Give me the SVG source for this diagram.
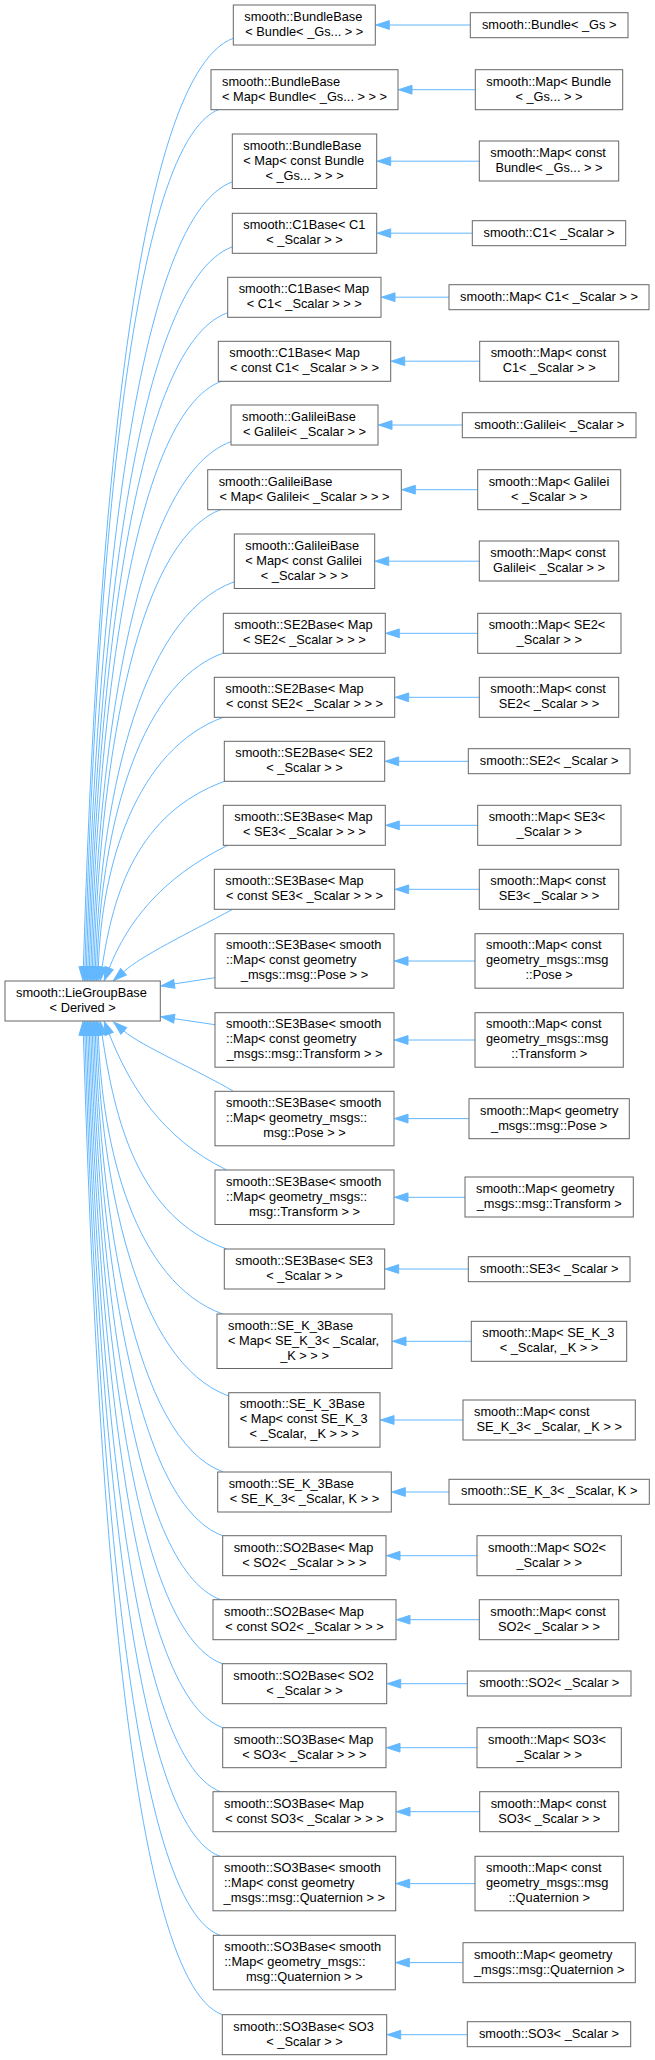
<svg xmlns="http://www.w3.org/2000/svg" width="655" height="2060" viewBox="0 0 655 2060">
<style>
.n rect{fill:#fff;stroke:#666;stroke-width:1}
text{font-family:"Liberation Sans",Arial,Helvetica,sans-serif;font-size:12.8px;fill:#000}
.s{text-anchor:start}
.m{text-anchor:middle}
#edges path{fill:none;stroke:#63b8ff;stroke-width:1;marker-end:url(#ah)}
</style>
<defs>
<marker id="ah" markerUnits="userSpaceOnUse" orient="auto" refX="0" refY="0" markerWidth="16" markerHeight="12" viewBox="0 -6 16 12" overflow="visible">
<path d="M0,-4.4 L13.5,0 L0,4.4 z" fill="#63b8ff" stroke="#63b8ff" stroke-width="1"/>
</marker>
</defs>
<rect width="655" height="2060" fill="#fff"/>
<g id="edges">
<path d="M233.3,38.3 C127.3,76.6 94.5,595.5 83.4,967"/>
<path d="M220,109 C124.5,143.6 95.2,623.8 84.9,967"/>
<path d="M232.7,181.7 C129.3,219.1 95.8,652.9 86.4,967"/>
<path d="M232.7,246.7 C130.3,283.7 96.5,678.9 87.9,967"/>
<path d="M227,313 C129.7,348.2 97.2,705.4 89.4,967"/>
<path d="M222,381 C129.3,414.5 97.9,732.6 90.9,967"/>
<path d="M231,441.7 C133,477.1 98.7,756.9 92.4,967"/>
<path d="M222,509 C131.4,541.8 99.4,783.8 93.9,967"/>
<path d="M234.3,581.7 C136.1,617.2 100,812.9 95.4,967"/>
<path d="M223.3,653 C133.9,685.3 100.7,841.4 96.9,967"/>
<path d="M224,717 C135.2,749.1 101.4,867 98.4,967"/>
<path d="M225.3,781 C137,813 113.1,893.5 102.1,967.2"/>
<path d="M228.3,845 C161.2,877.8 127.5,922.3 109.2,968"/>
<path d="M233.3,909 C185.8,934.4 142.3,955.3 123.5,971.8"/>
<path d="M215,977.7 L174.3,983.9"/>
<path d="M215,1024.7 L174.3,1018.7"/>
<path d="M233,1091 C199.9,1071.4 140.3,1045.4 123.8,1030.9"/>
<path d="M226.7,1170 C160.5,1137.6 129.4,1084.5 109.2,1034"/>
<path d="M226.7,1249 C137.4,1216.7 114.8,1119.6 102.1,1034.8"/>
<path d="M222.7,1314 C134.8,1282.2 101.7,1146.6 98.4,1035"/>
<path d="M228.7,1396 C135.5,1362.3 101.2,1179.4 96.9,1035"/>
<path d="M223.3,1472 C132.8,1439.3 100.6,1209.8 95.4,1035"/>
<path d="M222.7,1535.7 C131.6,1502.8 99.9,1235.3 93.9,1035"/>
<path d="M220.7,1599.7 C130,1566.9 99.2,1260.9 92.4,1035"/>
<path d="M222.3,1663.7 C129.4,1630.1 98.4,1286.5 90.9,1035"/>
<path d="M222.7,1727.7 C128.4,1693.6 97.7,1312.1 89.4,1035"/>
<path d="M220.7,1791.7 C126.8,1757.7 97,1337.7 87.9,1035"/>
<path d="M220,1856.3 C125.5,1822.1 96.3,1363.5 86.4,1035"/>
<path d="M220,1935.3 C124.5,1900.7 95.7,1395.1 84.9,1035"/>
<path d="M222.3,2014.7 C124.1,1979.2 95.2,1426.9 83.4,1035"/>
<path d="M470.3,25 H389.3"/>
<path d="M475.3,89.7 H412"/>
<path d="M479.3,161.2 H390.7"/>
<path d="M472.3,233.2 H390.7"/>
<path d="M449,297.2 H395"/>
<path d="M479.7,361.2 H404.7"/>
<path d="M462.3,425 H392"/>
<path d="M477.7,489.7 H415.3"/>
<path d="M479.3,561.2 H388.7"/>
<path d="M477.7,633.3 H399.3"/>
<path d="M479.3,697.3 H408.7"/>
<path d="M468.3,761.3 H398.7"/>
<path d="M477.7,825.3 H399.3"/>
<path d="M479.3,889.3 H408.7"/>
<path d="M475,961 H408"/>
<path d="M475,1040 H408"/>
<path d="M469,1118.6 H408"/>
<path d="M465,1197.3 H408"/>
<path d="M468.3,1269 H398.7"/>
<path d="M471.3,1341.3 H406"/>
<path d="M463,1420 H394"/>
<path d="M449,1492 H405.3"/>
<path d="M477,1555.7 H400"/>
<path d="M479.3,1619.7 H410"/>
<path d="M467.3,1683.7 H400.7"/>
<path d="M477,1747.7 H400"/>
<path d="M479.7,1811.7 H410"/>
<path d="M475,1883.6 H409.7"/>
<path d="M463,1962.6 H409.3"/>
<path d="M467.3,2034.7 H400.7"/>
</g>
<g id="lie" class="n"><rect x="5" y="981" width="155.3" height="40"/><text class="s" x="16" y="996.8">smooth::LieGroupBase</text><text class="m" x="82.7" y="1011.8">&lt; Derived &gt;</text></g>
<g id="n1L" class="n"><rect x="233.3" y="5" width="142" height="40"/><text class="s" x="244.3" y="20.8">smooth::BundleBase</text><text class="m" x="304.3" y="35.8">&lt; Bundle&lt; _Gs... &gt; &gt;</text></g>
<g id="n1R" class="n"><rect x="470.3" y="12.7" width="157.7" height="25"/><text class="m" x="549.2" y="28.5">smooth::Bundle&lt; _Gs &gt;</text></g>
<g id="n2L" class="n"><rect x="211" y="69.7" width="187" height="40"/><text class="s" x="222" y="85.5">smooth::BundleBase</text><text class="m" x="304.5" y="100.5">&lt; Map&lt; Bundle&lt; _Gs... &gt; &gt; &gt;</text></g>
<g id="n2R" class="n"><rect x="475.3" y="69.7" width="147.4" height="40"/><text class="s" x="486.3" y="85.5">smooth::Map&lt; Bundle</text><text class="m" x="549" y="100.5">&lt; _Gs... &gt; &gt;</text></g>
<g id="n3L" class="n"><rect x="232.3" y="134" width="144.4" height="54.5"/><text class="s" x="243.3" y="149.55">smooth::BundleBase</text><text class="s" x="243.3" y="164.55">&lt; Map&lt; const Bundle</text><text class="m" x="304.5" y="179.55">&lt; _Gs... &gt; &gt; &gt;</text></g>
<g id="n3R" class="n"><rect x="479.3" y="141" width="139.4" height="40"/><text class="s" x="490.3" y="156.8">smooth::Map&lt; const</text><text class="m" x="549" y="171.8">Bundle&lt; _Gs... &gt; &gt;</text></g>
<g id="n4L" class="n"><rect x="232.3" y="213.3" width="144.4" height="40"/><text class="s" x="243.3" y="229.1">smooth::C1Base&lt; C1</text><text class="m" x="304.5" y="244.1">&lt; _Scalar &gt; &gt;</text></g>
<g id="n4R" class="n"><rect x="472.3" y="220.7" width="153.4" height="25"/><text class="m" x="549" y="236.5">smooth::C1&lt; _Scalar &gt;</text></g>
<g id="n5L" class="n"><rect x="227.7" y="277.3" width="153.3" height="40"/><text class="s" x="238.7" y="293.1">smooth::C1Base&lt; Map</text><text class="m" x="304.3" y="308.1">&lt; C1&lt; _Scalar &gt; &gt; &gt;</text></g>
<g id="n5R" class="n"><rect x="449" y="284.7" width="200" height="25"/><text class="m" x="549" y="300.5">smooth::Map&lt; C1&lt; _Scalar &gt; &gt;</text></g>
<g id="n6L" class="n"><rect x="218.3" y="341.3" width="172.4" height="40"/><text class="s" x="229.3" y="357.1">smooth::C1Base&lt; Map</text><text class="m" x="304.5" y="372.1">&lt; const C1&lt; _Scalar &gt; &gt; &gt;</text></g>
<g id="n6R" class="n"><rect x="479.7" y="341.3" width="139" height="40"/><text class="s" x="490.7" y="357.1">smooth::Map&lt; const</text><text class="m" x="549.2" y="372.1">C1&lt; _Scalar &gt; &gt;</text></g>
<g id="n7L" class="n"><rect x="231" y="405" width="147" height="40"/><text class="s" x="242" y="420.8">smooth::GalileiBase</text><text class="m" x="304.5" y="435.8">&lt; Galilei&lt; _Scalar &gt; &gt;</text></g>
<g id="n7R" class="n"><rect x="462.3" y="412.7" width="173.7" height="25"/><text class="m" x="549.2" y="428.5">smooth::Galilei&lt; _Scalar &gt;</text></g>
<g id="n8L" class="n"><rect x="207.7" y="469.7" width="193.6" height="40"/><text class="s" x="218.7" y="485.5">smooth::GalileiBase</text><text class="m" x="304.5" y="500.5">&lt; Map&lt; Galilei&lt; _Scalar &gt; &gt; &gt;</text></g>
<g id="n8R" class="n"><rect x="477.7" y="469.7" width="143" height="40"/><text class="s" x="488.7" y="485.5">smooth::Map&lt; Galilei</text><text class="m" x="549.2" y="500.5">&lt; _Scalar &gt; &gt;</text></g>
<g id="n9L" class="n"><rect x="234.3" y="534" width="140.4" height="54.5"/><text class="s" x="245.3" y="549.55">smooth::GalileiBase</text><text class="s" x="245.3" y="564.55">&lt; Map&lt; const Galilei</text><text class="m" x="304.5" y="579.55">&lt; _Scalar &gt; &gt; &gt;</text></g>
<g id="n9R" class="n"><rect x="479.3" y="541" width="139.4" height="40"/><text class="s" x="490.3" y="556.8">smooth::Map&lt; const</text><text class="m" x="549" y="571.8">Galilei&lt; _Scalar &gt; &gt;</text></g>
<g id="n10L" class="n"><rect x="223.3" y="613.3" width="162" height="40"/><text class="s" x="234.3" y="629.1">smooth::SE2Base&lt; Map</text><text class="m" x="304.3" y="644.1">&lt; SE2&lt; _Scalar &gt; &gt; &gt;</text></g>
<g id="n10R" class="n"><rect x="477.7" y="613.3" width="143.3" height="40"/><text class="s" x="488.7" y="629.1">smooth::Map&lt; SE2&lt;</text><text class="m" x="549.3" y="644.1">_Scalar &gt; &gt;</text></g>
<g id="n11L" class="n"><rect x="214.3" y="677.3" width="180.4" height="40"/><text class="s" x="225.3" y="693.1">smooth::SE2Base&lt; Map</text><text class="m" x="304.5" y="708.1">&lt; const SE2&lt; _Scalar &gt; &gt; &gt;</text></g>
<g id="n11R" class="n"><rect x="479.3" y="677.3" width="139.4" height="40"/><text class="s" x="490.3" y="693.1">smooth::Map&lt; const</text><text class="m" x="549" y="708.1">SE2&lt; _Scalar &gt; &gt;</text></g>
<g id="n12L" class="n"><rect x="224.3" y="741.3" width="160.4" height="40"/><text class="s" x="235.3" y="757.1">smooth::SE2Base&lt; SE2</text><text class="m" x="304.5" y="772.1">&lt; _Scalar &gt; &gt;</text></g>
<g id="n12R" class="n"><rect x="468.3" y="748.7" width="161.7" height="25"/><text class="m" x="549.2" y="764.5">smooth::SE2&lt; _Scalar &gt;</text></g>
<g id="n13L" class="n"><rect x="223.3" y="805.3" width="162" height="40"/><text class="s" x="234.3" y="821.1">smooth::SE3Base&lt; Map</text><text class="m" x="304.3" y="836.1">&lt; SE3&lt; _Scalar &gt; &gt; &gt;</text></g>
<g id="n13R" class="n"><rect x="477.7" y="805.3" width="143.3" height="40"/><text class="s" x="488.7" y="821.1">smooth::Map&lt; SE3&lt;</text><text class="m" x="549.3" y="836.1">_Scalar &gt; &gt;</text></g>
<g id="n14L" class="n"><rect x="214.3" y="869.3" width="180.4" height="40"/><text class="s" x="225.3" y="885.1">smooth::SE3Base&lt; Map</text><text class="m" x="304.5" y="900.1">&lt; const SE3&lt; _Scalar &gt; &gt; &gt;</text></g>
<g id="n14R" class="n"><rect x="479.3" y="869.3" width="139.4" height="40"/><text class="s" x="490.3" y="885.1">smooth::Map&lt; const</text><text class="m" x="549" y="900.1">SE3&lt; _Scalar &gt; &gt;</text></g>
<g id="n15L" class="n"><rect x="215" y="933.7" width="179" height="54.5"/><text class="s" x="226" y="949.25">smooth::SE3Base&lt; smooth</text><text class="s" x="226" y="964.25">::Map&lt; const geometry</text><text class="m" x="304.5" y="979.25">_msgs::msg::Pose &gt; &gt;</text></g>
<g id="n15R" class="n"><rect x="475" y="933.7" width="148.3" height="54.5"/><text class="s" x="486" y="949.25">smooth::Map&lt; const</text><text class="s" x="486" y="964.25">geometry_msgs::msg</text><text class="m" x="549.2" y="979.25">::Pose &gt;</text></g>
<g id="n16L" class="n"><rect x="215" y="1012.7" width="179" height="54.5"/><text class="s" x="226" y="1028.25">smooth::SE3Base&lt; smooth</text><text class="s" x="226" y="1043.25">::Map&lt; const geometry</text><text class="m" x="304.5" y="1058.25">_msgs::msg::Transform &gt; &gt;</text></g>
<g id="n16R" class="n"><rect x="475" y="1012.7" width="148.3" height="54.5"/><text class="s" x="486" y="1028.25">smooth::Map&lt; const</text><text class="s" x="486" y="1043.25">geometry_msgs::msg</text><text class="m" x="549.2" y="1058.25">::Transform &gt;</text></g>
<g id="n17L" class="n"><rect x="215" y="1091.3" width="179" height="54.5"/><text class="s" x="226" y="1106.85">smooth::SE3Base&lt; smooth</text><text class="s" x="226" y="1121.85">::Map&lt; geometry_msgs::</text><text class="m" x="304.5" y="1136.85">msg::Pose &gt; &gt;</text></g>
<g id="n17R" class="n"><rect x="469" y="1098.7" width="160.3" height="40"/><text class="s" x="480" y="1114.5">smooth::Map&lt; geometry</text><text class="m" x="549.2" y="1129.5">_msgs::msg::Pose &gt;</text></g>
<g id="n18L" class="n"><rect x="215" y="1170" width="179" height="54.5"/><text class="s" x="226" y="1185.55">smooth::SE3Base&lt; smooth</text><text class="s" x="226" y="1200.55">::Map&lt; geometry_msgs::</text><text class="m" x="304.5" y="1215.55">msg::Transform &gt; &gt;</text></g>
<g id="n18R" class="n"><rect x="465" y="1177" width="168.3" height="40"/><text class="s" x="476" y="1192.8">smooth::Map&lt; geometry</text><text class="m" x="549.2" y="1207.8">_msgs::msg::Transform &gt;</text></g>
<g id="n19L" class="n"><rect x="224.3" y="1249" width="160.4" height="40"/><text class="s" x="235.3" y="1264.8">smooth::SE3Base&lt; SE3</text><text class="m" x="304.5" y="1279.8">&lt; _Scalar &gt; &gt;</text></g>
<g id="n19R" class="n"><rect x="468.3" y="1256.7" width="161.7" height="25"/><text class="m" x="549.2" y="1272.5">smooth::SE3&lt; _Scalar &gt;</text></g>
<g id="n20L" class="n"><rect x="217" y="1314" width="175" height="54.5"/><text class="s" x="228" y="1329.55">smooth::SE_K_3Base</text><text class="s" x="228" y="1344.55">&lt; Map&lt; SE_K_3&lt; _Scalar,</text><text class="m" x="304.5" y="1359.55">_K &gt; &gt; &gt;</text></g>
<g id="n20R" class="n"><rect x="471.3" y="1321.3" width="155.4" height="40"/><text class="s" x="482.3" y="1337.1">smooth::Map&lt; SE_K_3</text><text class="m" x="549" y="1352.1">&lt; _Scalar, _K &gt; &gt;</text></g>
<g id="n21L" class="n"><rect x="228.7" y="1392.7" width="151.3" height="54.5"/><text class="s" x="239.7" y="1408.25">smooth::SE_K_3Base</text><text class="s" x="239.7" y="1423.25">&lt; Map&lt; const SE_K_3</text><text class="m" x="304.3" y="1438.25">&lt; _Scalar, _K &gt; &gt; &gt;</text></g>
<g id="n21R" class="n"><rect x="463" y="1400" width="172.3" height="40"/><text class="s" x="474" y="1415.8">smooth::Map&lt; const</text><text class="m" x="549.2" y="1430.8">SE_K_3&lt; _Scalar, _K &gt; &gt;</text></g>
<g id="n22L" class="n"><rect x="217.7" y="1472" width="173.6" height="40"/><text class="s" x="228.7" y="1487.8">smooth::SE_K_3Base</text><text class="m" x="304.5" y="1502.8">&lt; SE_K_3&lt; _Scalar, K &gt; &gt;</text></g>
<g id="n22R" class="n"><rect x="449" y="1479.3" width="200.3" height="25"/><text class="m" x="549.2" y="1495.1">smooth::SE_K_3&lt; _Scalar, K &gt;</text></g>
<g id="n23L" class="n"><rect x="222.7" y="1535.7" width="163.3" height="40"/><text class="s" x="233.7" y="1551.5">smooth::SO2Base&lt; Map</text><text class="m" x="304.3" y="1566.5">&lt; SO2&lt; _Scalar &gt; &gt; &gt;</text></g>
<g id="n23R" class="n"><rect x="477" y="1535.7" width="144.3" height="40"/><text class="s" x="488" y="1551.5">smooth::Map&lt; SO2&lt;</text><text class="m" x="549.2" y="1566.5">_Scalar &gt; &gt;</text></g>
<g id="n24L" class="n"><rect x="213" y="1599.7" width="183" height="40"/><text class="s" x="224" y="1615.5">smooth::SO2Base&lt; Map</text><text class="m" x="304.5" y="1630.5">&lt; const SO2&lt; _Scalar &gt; &gt; &gt;</text></g>
<g id="n24R" class="n"><rect x="479.3" y="1599.7" width="139.4" height="40"/><text class="s" x="490.3" y="1615.5">smooth::Map&lt; const</text><text class="m" x="549" y="1630.5">SO2&lt; _Scalar &gt; &gt;</text></g>
<g id="n25L" class="n"><rect x="222.3" y="1663.7" width="164.4" height="40"/><text class="s" x="233.3" y="1679.5">smooth::SO2Base&lt; SO2</text><text class="m" x="304.5" y="1694.5">&lt; _Scalar &gt; &gt;</text></g>
<g id="n25R" class="n"><rect x="467.3" y="1671" width="163.7" height="25"/><text class="m" x="549.2" y="1686.8">smooth::SO2&lt; _Scalar &gt;</text></g>
<g id="n26L" class="n"><rect x="222.7" y="1727.7" width="163.3" height="40"/><text class="s" x="233.7" y="1743.5">smooth::SO3Base&lt; Map</text><text class="m" x="304.3" y="1758.5">&lt; SO3&lt; _Scalar &gt; &gt; &gt;</text></g>
<g id="n26R" class="n"><rect x="477" y="1727.7" width="144.3" height="40"/><text class="s" x="488" y="1743.5">smooth::Map&lt; SO3&lt;</text><text class="m" x="549.2" y="1758.5">_Scalar &gt; &gt;</text></g>
<g id="n27L" class="n"><rect x="213" y="1791.7" width="183" height="40"/><text class="s" x="224" y="1807.5">smooth::SO3Base&lt; Map</text><text class="m" x="304.5" y="1822.5">&lt; const SO3&lt; _Scalar &gt; &gt; &gt;</text></g>
<g id="n27R" class="n"><rect x="479.7" y="1791.7" width="139" height="40"/><text class="s" x="490.7" y="1807.5">smooth::Map&lt; const</text><text class="m" x="549.2" y="1822.5">SO3&lt; _Scalar &gt; &gt;</text></g>
<g id="n28L" class="n"><rect x="213" y="1856.3" width="182.7" height="54.5"/><text class="s" x="224" y="1871.85">smooth::SO3Base&lt; smooth</text><text class="s" x="224" y="1886.85">::Map&lt; const geometry</text><text class="m" x="304.3" y="1901.85">_msgs::msg::Quaternion &gt; &gt;</text></g>
<g id="n28R" class="n"><rect x="475" y="1856.3" width="148.3" height="54.5"/><text class="s" x="486" y="1871.85">smooth::Map&lt; const</text><text class="s" x="486" y="1886.85">geometry_msgs::msg</text><text class="m" x="549.2" y="1901.85">::Quaternion &gt;</text></g>
<g id="n29L" class="n"><rect x="213.3" y="1935.3" width="182" height="54.5"/><text class="s" x="224.3" y="1950.85">smooth::SO3Base&lt; smooth</text><text class="s" x="224.3" y="1965.85">::Map&lt; geometry_msgs::</text><text class="m" x="304.3" y="1980.85">msg::Quaternion &gt; &gt;</text></g>
<g id="n29R" class="n"><rect x="463" y="1942.7" width="172.3" height="40"/><text class="s" x="474" y="1958.5">smooth::Map&lt; geometry</text><text class="m" x="549.2" y="1973.5">_msgs::msg::Quaternion &gt;</text></g>
<g id="n30L" class="n"><rect x="222.3" y="2014.7" width="164.4" height="40"/><text class="s" x="233.3" y="2030.5">smooth::SO3Base&lt; SO3</text><text class="m" x="304.5" y="2045.5">&lt; _Scalar &gt; &gt;</text></g>
<g id="n30R" class="n"><rect x="467.3" y="2021.7" width="163.4" height="25"/><text class="m" x="549" y="2037.5">smooth::SO3&lt; _Scalar &gt;</text></g>
</svg>
